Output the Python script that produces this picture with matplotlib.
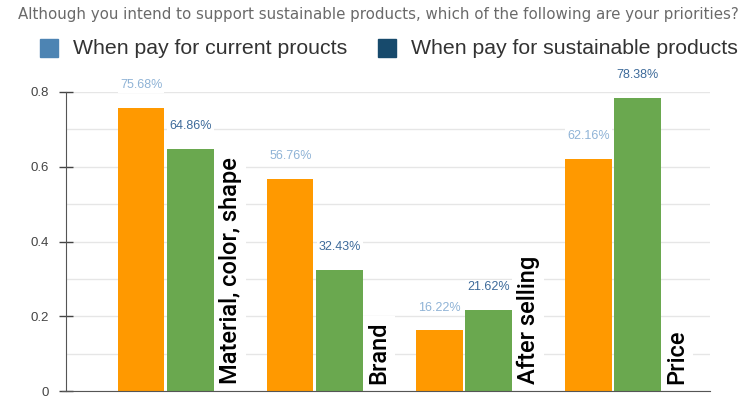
import matplotlib
matplotlib.use("Agg")
import matplotlib.pyplot as plt
from matplotlib.patches import Rectangle
import numpy as np

plt.rcParams['font.family'] = ['Liberation Sans', 'DejaVu Sans']

title = "Although you intend to support sustainable products, which of the following are your priorities?"
categories = ["Material, color, shape", "Brand", "After selling", "Price"]
series_names = ["When pay for current proucts", "When pay for sustainable products"]
current = [0.7568, 0.5676, 0.1622, 0.6216]
sustainable = [0.6486, 0.3243, 0.2162, 0.7838]
yticks = [0, 0.2, 0.4, 0.6, 0.8]
ytick_labels = ["0", "0.2", "0.4", "0.6", "0.8"]

bar_colors = ["#ff9900", "#6aa84f"]
legend_colors = ["#4d84b3", "#174a6c"]
label_colors = ["#8fb3d6", "#3d6a9a"]

fig = plt.figure(figsize=(7.41, 4.01), dpi=100)
ax = fig.add_axes([66 / 741, 1 - 391 / 401, (710 - 66) / 741, (391 - 92) / 401])

x = np.arange(len(categories))
w = 0.31
gap = 0.01
ax.bar(x - w / 2 - gap, current, width=w, color=bar_colors[0], zorder=2)
ax.bar(x + w / 2 + gap, sustainable, width=w, color=bar_colors[1], zorder=2)

# value labels above bars
for xi, v in zip(x, current):
    ax.text(xi - w / 2 - gap, v + 0.045, f"{v*100:.2f}%", ha="center", va="bottom",
            fontsize=9, color=label_colors[0], zorder=4, clip_on=False,
            bbox=dict(boxstyle="square,pad=0.15", fc="white", ec="none"))
for xi, v in zip(x, sustainable):
    ax.text(xi + w / 2 + gap, v + 0.045, f"{v*100:.2f}%", ha="center", va="bottom",
            fontsize=9, color=label_colors[1], zorder=4, clip_on=False,
            bbox=dict(boxstyle="square,pad=0.15", fc="white", ec="none"))

# category labels, rotated, right of each group
for xi, c in zip(x, categories):
    ax.text(xi + 0.43, 0.02, c, rotation=90, ha="center", va="bottom",
            fontsize=17, color="black", zorder=4, family=["Roboto", "DejaVu Sans"],
            fontweight="medium",
            bbox=dict(boxstyle="square,pad=0.2", fc="white", ec="none"))

ax.set_xlim(-0.671, 3.651)
ax.set_ylim(0, 0.8)
ax.set_xticks([])
ax.set_yticks(yticks)
ax.set_yticklabels(ytick_labels, fontsize=9.5, color="#444444")
ax.set_yticks(np.arange(0.1, 0.8, 0.2), minor=True)
ax.tick_params(axis="y", which="major", direction="inout", length=10, width=1, color="#444444", pad=7)
ax.tick_params(axis="y", which="minor", length=0)
ax.grid(axis="y", which="both", color="#e6e6e6", linewidth=1, zorder=0)
ax.set_axisbelow(True)
for s in ["top", "right"]:
    ax.spines[s].set_visible(False)
ax.spines["left"].set_color("#555555")
ax.spines["bottom"].set_color("#555555")
ax.spines["bottom"].set_bounds(-0.671 - 4 / 149, 3.651)

fig.text(378 / 741, 1 - 14 / 401, title, ha="center", va="center",
         fontsize=10.8, color="#6a6a6a", family=["DejaVu Sans"])

# legend
for i, (name, col) in enumerate(zip(series_names, legend_colors)):
    x0 = [40, 378][i]
    fig.patches.append(Rectangle((x0 / 741, 1 - 57 / 401), 18 / 741, 18 / 401,
                                 transform=fig.transFigure, color=col, figure=fig))
    fig.text((x0 + 33) / 741, 1 - 48 / 401, name, ha="left", va="center",
             fontsize=15.3, color="#333333")

fig.savefig("out.png", dpi=100)
